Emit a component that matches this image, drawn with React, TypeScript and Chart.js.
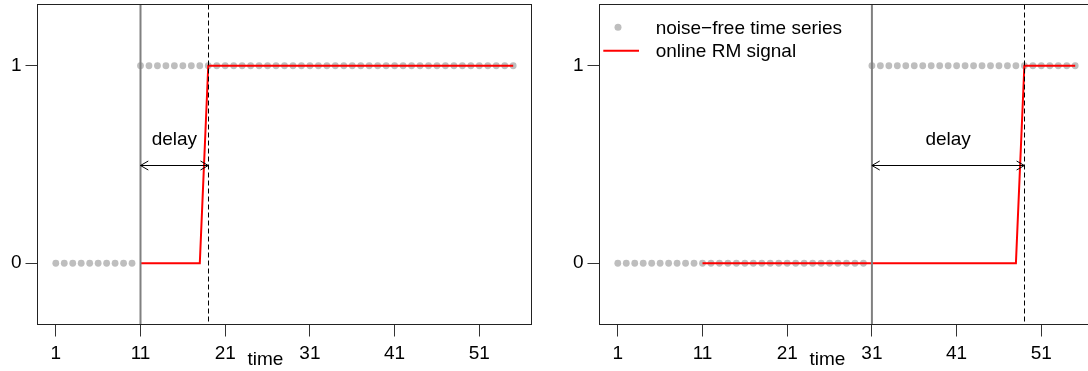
import React, { useEffect, useRef } from "react";
import { Chart, registerables } from "chart.js";

Chart.register(...registerables);

// Time index of the series
const time = [
  1, 2, 3, 4, 5, 6, 7, 8, 9, 10,
  11, 12, 13, 14, 15, 16, 17, 18, 19, 20,
  21, 22, 23, 24, 25, 26, 27, 28, 29, 30,
  31, 32, 33, 34, 35, 36, 37, 38, 39, 40,
  41, 42, 43, 44, 45, 46, 47, 48, 49, 50,
  51, 52, 53, 54, 55,
];

// Noise-free level shift, early change (left panel)
const signalEarly = [
  0, 0, 0, 0, 0, 0, 0, 0, 0, 0,
  1, 1, 1, 1, 1, 1, 1, 1, 1, 1,
  1, 1, 1, 1, 1, 1, 1, 1, 1, 1,
  1, 1, 1, 1, 1, 1, 1, 1, 1, 1,
  1, 1, 1, 1, 1, 1, 1, 1, 1, 1,
  1, 1, 1, 1, 1,
];

// Online repeated-median signal, available from t = 11 (left panel)
const rmEarly = [
  0, 0, 0, 0, 0, 0, 0, 0, 1, 1,
  1, 1, 1, 1, 1, 1, 1, 1, 1, 1,
  1, 1, 1, 1, 1, 1, 1, 1, 1, 1,
  1, 1, 1, 1, 1, 1, 1, 1, 1, 1,
  1, 1, 1, 1, 1,
];

// Noise-free level shift, late change (right panel)
const signalLate = [
  0, 0, 0, 0, 0, 0, 0, 0, 0, 0,
  0, 0, 0, 0, 0, 0, 0, 0, 0, 0,
  0, 0, 0, 0, 0, 0, 0, 0, 0, 0,
  1, 1, 1, 1, 1, 1, 1, 1, 1, 1,
  1, 1, 1, 1, 1, 1, 1, 1, 1, 1,
  1, 1, 1, 1, 1,
];

// Online repeated-median signal, available from t = 11 (right panel)
const rmLate = [
  0, 0, 0, 0, 0, 0, 0, 0, 0, 0,
  0, 0, 0, 0, 0, 0, 0, 0, 0, 0,
  0, 0, 0, 0, 0, 0, 0, 0, 0, 0,
  0, 0, 0, 0, 0, 0, 0, 0, 1, 1,
  1, 1, 1, 1, 1,
];

const rmTime = time.slice(10);

const xTickValues = [1, 11, 21, 31, 41, 51];
const yTickValues = [0, 1];

// Time of the true shift and time of its detection
const changeTimes = [11, 31];
const detectTimes = [19, 49];

const arrowLevel = 0.5;
const delayTextLevel = 0.6;
const timeLabelAt = 25.75;

const seriesLabels = ["noise\u2212free time series", "online RM signal"];
const delayText = "delay";
const axisTitle = "time";

const FONT_FAMILY = '"Liberation Sans", Arial, Helvetica, sans-serif';
const FONT_SIZE = 19;
const FONT = `${FONT_SIZE}px ${FONT_FAMILY}`;
const GREY = "#BEBEBE";
const RED = "#FF0000";

const X_MIN = -1.16;
const X_MAX = 57.16;
const Y_MIN = -0.31;
const Y_MAX = 1.31;

type PanelProps = {
  signal: number[];
  rm: number[];
  changeAt: number;
  detectAt: number;
  withLegend: boolean;
  left: number;
  width: number;
  axisWidth: number;
  padRight: number;
};

function drawArrowHead(ctx: CanvasRenderingContext2D, x: number, y: number, dir: number) {
  const len = 9;
  const ang = Math.PI / 6;
  ctx.beginPath();
  ctx.moveTo(x + dir * len * Math.cos(ang), y - len * Math.sin(ang));
  ctx.lineTo(x, y);
  ctx.lineTo(x + dir * len * Math.cos(ang), y + len * Math.sin(ang));
  ctx.stroke();
}

function Panel(props: PanelProps) {
  const ref = useRef<HTMLCanvasElement | null>(null);

  useEffect(() => {
    const { signal, rm, changeAt, detectAt, withLegend, axisWidth, padRight } = props;
    const canvas = ref.current;
    if (!canvas) return;

    const overlay = {
      id: "shiftOverlay",
      afterDatasetsDraw(chart: any) {
        const { ctx, chartArea, scales } = chart;
        const xs = scales.x;
        const ys = scales.y;
        ctx.save();
        ctx.beginPath();
        ctx.rect(chartArea.left, chartArea.top, chartArea.right - chartArea.left, chartArea.bottom - chartArea.top);
        ctx.clip();

        // true change time
        const xc = xs.getPixelForValue(changeAt);
        ctx.strokeStyle = "#808080";
        ctx.lineWidth = 2;
        ctx.beginPath();
        ctx.moveTo(xc, chartArea.top);
        ctx.lineTo(xc, chartArea.bottom);
        ctx.stroke();

        // detection time
        const xd = xs.getPixelForValue(detectAt);
        ctx.strokeStyle = "#000";
        ctx.lineWidth = 1;
        ctx.setLineDash([5, 3]);
        ctx.beginPath();
        ctx.moveTo(Math.round(xd) + 0.5, chartArea.top);
        ctx.lineTo(Math.round(xd) + 0.5, chartArea.bottom);
        ctx.stroke();
        ctx.setLineDash([]);

        // delay arrow
        const ya = Math.round(ys.getPixelForValue(arrowLevel)) + 0.5;
        ctx.strokeStyle = "#000";
        ctx.lineWidth = 1;
        ctx.beginPath();
        ctx.moveTo(xc, ya);
        ctx.lineTo(xd, ya);
        ctx.stroke();
        drawArrowHead(ctx, xc, ya, 1);
        drawArrowHead(ctx, xd, ya, -1);

        ctx.fillStyle = "#000";
        ctx.font = FONT;
        ctx.textAlign = "center";
        ctx.textBaseline = "alphabetic";
        ctx.fillText(delayText, (xc + xd) / 2, ys.getPixelForValue(delayTextLevel));

        // legend
        if (withLegend) {
          const lx = chartArea.left;
          const ly = chartArea.top;
          ctx.fillStyle = GREY;
          ctx.beginPath();
          ctx.arc(lx + 18.5, ly + 22.8, 3.5, 0, Math.PI * 2);
          ctx.fill();
          ctx.strokeStyle = RED;
          ctx.lineWidth = 2;
          ctx.beginPath();
          ctx.moveTo(lx + 3.8, ly + 46.2);
          ctx.lineTo(lx + 39.5, ly + 46.2);
          ctx.stroke();
          ctx.fillStyle = "#000";
          ctx.textAlign = "left";
          ctx.fillText(seriesLabels[0], lx + 56.2, ly + 29.8);
          ctx.fillText(seriesLabels[1], lx + 56.2, ly + 52.2);
        }
        ctx.restore();

        // plot box
        ctx.save();
        ctx.strokeStyle = "#222";
        ctx.lineWidth = 1;
        ctx.strokeRect(chartArea.left, chartArea.top, chartArea.right - chartArea.left, chartArea.bottom - chartArea.top);

        // axis title
        ctx.fillStyle = "#000";
        ctx.font = FONT;
        ctx.textAlign = "center";
        ctx.textBaseline = "alphabetic";
        ctx.fillText(axisTitle, xs.getPixelForValue(timeLabelAt), chart.height - 6);
        ctx.restore();
      },
    };

    const chart = new Chart(canvas, {
      type: "line",
      data: {
        datasets: [
          {
            label: seriesLabels[1],
            data: rm.map((v, i) => ({ x: rmTime[i], y: v })),
            borderColor: RED,
            backgroundColor: RED,
            borderWidth: 2,
            pointRadius: 0,
            tension: 0,
            fill: false,
            order: 0,
          },
          {
            label: seriesLabels[0],
            data: signal.map((v, i) => ({ x: time[i], y: v })),
            showLine: false,
            pointRadius: 3.4,
            pointBorderWidth: 0,
            pointBackgroundColor: GREY,
            borderColor: GREY,
            backgroundColor: GREY,
            order: 1,
          },
        ],
      },
      options: {
        animation: false,
        responsive: false,
        events: [],
        layout: { padding: { left: 0, right: padRight, top: 4.5, bottom: 0 } },
        plugins: { legend: { display: false }, tooltip: { enabled: false } },
        scales: {
          x: {
            type: "linear",
            min: X_MIN,
            max: X_MAX,
            afterBuildTicks: (s: any) => {
              s.ticks = xTickValues.map((value) => ({ value }));
            },
            afterFit: (s: any) => {
              s.height = 46.5;
              s.paddingLeft = 0;
              s.paddingRight = 0;
            },
            ticks: {
              autoSkip: false,
              maxRotation: 0,
              padding: 6,
              color: "#000",
              font: { family: FONT_FAMILY, size: FONT_SIZE },
            },
            grid: { drawOnChartArea: false, tickLength: 12, color: "#333", lineWidth: 1 },
            border: { display: false },
          },
          y: {
            type: "linear",
            min: Y_MIN,
            max: Y_MAX,
            afterBuildTicks: (s: any) => {
              s.ticks = yTickValues.map((value) => ({ value }));
            },
            afterFit: (s: any) => {
              s.width = axisWidth;
              s.paddingTop = 0;
              s.paddingBottom = 0;
            },
            ticks: {
              padding: 4,
              color: "#000",
              font: { family: FONT_FAMILY, size: FONT_SIZE },
            },
            grid: { drawOnChartArea: false, tickLength: 12, color: "#333", lineWidth: 1 },
            border: { display: false },
          },
        },
      },
      plugins: [overlay],
    } as any);

    return () => chart.destroy();
  }, []);

  return (
    <canvas
      ref={ref}
      width={props.width}
      height={371}
      style={{ position: "absolute", left: props.left, top: 0, width: props.width, height: 371 }}
    />
  );
}

export default function App() {
  return (
    <div
      style={{
        position: "fixed",
        left: 0,
        top: 0,
        width: 1088,
        height: 371,
        overflow: "hidden",
        background: "#fff",
      }}
    >
      <Panel
        signal={signalEarly}
        rm={rmEarly}
        changeAt={changeTimes[0]}
        detectAt={detectTimes[0]}
        withLegend={false}
        left={0}
        width={544}
        axisWidth={37.5}
        padRight={12.5}
      />
      <Panel
        signal={signalLate}
        rm={rmLate}
        changeAt={changeTimes[1]}
        detectAt={detectTimes[1]}
        withLegend={true}
        left={544}
        width={562}
        axisWidth={55.5}
        padRight={12.5}
      />
    </div>
  );
}
